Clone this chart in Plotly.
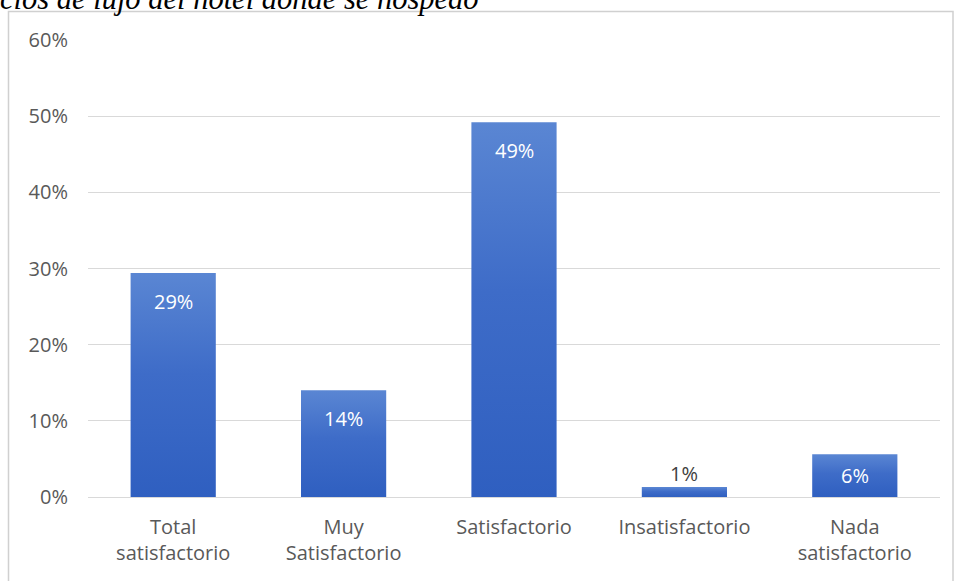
import plotly.graph_objects as go

# Survey results: satisfaction with the hotel's luxury services
categorias = ["Total<br>satisfactorio", "Muy<br>Satisfactorio", "Satisfactorio",
              "Insatisfactorio", "Nada<br>satisfactorio"]
porcentajes = [0.294, 0.140, 0.492, 0.013, 0.056]
ticks_y = [0, 0.1, 0.2, 0.3, 0.4, 0.5, 0.6]
etiquetas_y = ["0%", "10%", "20%", "30%", "40%", "50%", "60%"]
titulo = "cios de lujo del hotel donde se hospedó"

W, H = 960, 581
ML, MR, MT, MB = 88, 20, 40, 84
pw, ph = W - ML - MR, H - MT - MB
Y_MAX = 0.6
ANCHO = 0.5  # bar width in category units

def px_x(x):
    return (x - ML) / pw

def px_y(y):
    return (H - MB - y) / ph

fig = go.Figure()

# Each bar is a filled rectangle with a vertical gradient (dark at the base, light on top)
for i, (cat, val) in enumerate(zip(categorias, porcentajes)):
    x0, x1 = i - ANCHO / 2, i + ANCHO / 2
    fig.add_trace(go.Scatter(
        x=[x0, x1, x1, x0, x0],
        y=[0, 0, val, val, 0],
        mode="lines",
        line=dict(width=0, color="rgba(0,0,0,0)"),
        fill="toself",
        fillgradient=dict(type="vertical",
                          colorscale=[[0, "#2f5fc0"], [0.55, "#3e6cc8"], [1, "#5a86d3"]]),
        name=cat.replace("<br>", " "),
        hoverinfo="skip",
    ))

# Value labels: inside the top of each bar, or just above it when the bar is too short
etiquetas = []
for i, val in enumerate(porcentajes):
    alto = val / Y_MAX * ph
    fuera = alto < 20
    etiquetas.append(dict(
        x=i, y=val, xref="x", yref="y",
        text=f"{val:.0%}", showarrow=False,
        yanchor="middle",
        yshift=14 if fuera else -min(28, alto / 2),
        font=dict(family="Open Sans, sans-serif", size=20,
                  color="#404040" if fuera else "#ffffff"),
    ))

etiquetas.append(dict(
    text=titulo, xref="paper", yref="paper",
    x=px_x(-2), y=px_y(18), xanchor="left", yanchor="bottom",
    showarrow=False,
    font=dict(family="Liberation Serif, serif", size=30.5,
              color="#000000", style="italic"),
))

fig.update_layout(
    width=W, height=H,
    margin=dict(l=ML, r=MR, t=MT, b=MB),
    paper_bgcolor="white",
    plot_bgcolor="white",
    showlegend=False,
    font=dict(family="Open Sans, sans-serif", size=20, color="#595959"),
    xaxis=dict(range=[-0.5, len(categorias) - 0.5],
               tickvals=list(range(len(categorias))), ticktext=categorias,
               showgrid=False, zeroline=False, showline=True,
               linecolor="#d9d9d9", linewidth=1,
               ticks="", ticklabelstandoff=12,
               tickfont=dict(size=20, color="#595959"), fixedrange=True),
    yaxis=dict(range=[0, Y_MAX], tickvals=ticks_y, ticktext=etiquetas_y,
               showgrid=True, gridcolor="#d9d9d9", gridwidth=1, zeroline=False,
               showline=False, ticks="", ticklabelstandoff=19,
               tickfont=dict(size=20, color="#595959"), fixedrange=True),
    shapes=[dict(type="rect", xref="paper", yref="paper",
                 x0=px_x(8.5), x1=px_x(953), y0=px_y(590), y1=px_y(11.5),
                 line=dict(color="#d0d0d0", width=1.5), fillcolor="rgba(0,0,0,0)",
                 layer="below")],
    annotations=etiquetas,
)

fig.write_html("out.html")
